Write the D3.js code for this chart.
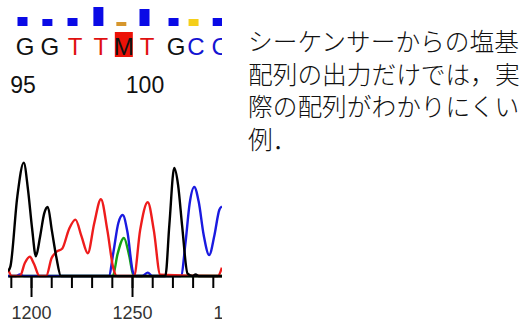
<!DOCTYPE html>
<html>
<head>
<meta charset="utf-8">
<script src="https://cdn.jsdelivr.net/npm/d3@7"></script>
<style>
  body { margin: 0; background: #fff; }
  svg { display: block; }
</style>
</head>
<body>
<div id="chart"></div>
<script>
// base calls (top strip)
const bases = ['G', 'G', 'T', 'T', 'M', 'T', 'G', 'C', 'C'];
const basePos = [95, 96.02, 97.05, 98.11, 99.05, 100, 101.19, 102.01, 103];
const quality = [18, 14, 16, 38, 8, 34, 16, 14, 16];
const qualClass = ['hi', 'hi', 'hi', 'hi', 'low', 'hi', 'hi', 'mid', 'hi'];
const baseTicks = [95, 100];

// chromatogram traces: [scan, intensity]
const traceG = [[1188.6, 40], [1189.8, 80], [1193.2, 660], [1196.4, 945], [1198.5, 720], [1200.5, 400],
  [1202.4, 165], [1204.5, 330], [1206.5, 520], [1208.3, 575], [1210.3, 380], [1212.5, 160], [1214.8, 0],
  [1266.5, 0], [1268.5, 430], [1270.9, 900], [1272.8, 760], [1274.8, 420], [1277.5, 20], [1280, 0],
  [1281.5, 12], [1283, 0], [1294.5, 0]];
const traceT = [[1188.6, 60], [1190.5, 0], [1194.5, 0], [1197, 110], [1199.4, 160], [1201.5, 100], [1204.2, 0],
  [1207.5, 0], [1210.2, 150], [1212.5, 200], [1215.5, 230], [1218.8, 390], [1222, 470], [1225, 330],
  [1228.1, 190], [1231.3, 440], [1234.6, 640], [1237.8, 380], [1240.8, 60], [1242.5, 0], [1251, 0],
  [1254, 380], [1257.8, 615], [1260.8, 380], [1264, 10], [1292.5, 0], [1294.5, 70]];
const traceC = [[1188.6, 0], [1192.5, 0], [1194.5, 12], [1196.5, 0], [1238.5, 0], [1240.8, 200], [1243.2, 440],
  [1245.4, 508], [1247.8, 360], [1250.5, 30], [1252, 0], [1255, 0], [1257.8, 28], [1260, 0], [1274.2, 0],
  [1276.5, 280], [1278.5, 600], [1280.8, 742], [1283, 620], [1285.5, 340], [1288.2, 175], [1290.8, 340],
  [1293.2, 550], [1294.5, 580]];
const traceA = [[1188.6, 0], [1240.5, 0], [1242.8, 180], [1246, 317], [1248.6, 170], [1250.8, 0], [1294.5, 0]];
const scanTicksMinor = d3.range(1190, 1300, 10);
const scanTicksMajor = [1200, 1250, 1300];

const caption = ['シーケンサーからの塩基', '配列の出力だけでは，実', '際の配列がわかりにくい', '例．'];

const W = 527, H = 322;
const latin = '"Liberation Sans", Arial, sans-serif';
const baseColor = { G: '#111', T: '#e01010', C: '#1414d2', A: '#109010', M: '#111' };
const traceColor = { G: '#000', T: '#ee1c1c', C: '#1a1ae0', A: '#13a013' };

const svg = d3.select('#chart').append('svg')
  .attr('width', W)
  .attr('height', H);

svg.append('clipPath').attr('id', 'clipL')
  .append('rect').attr('x', 0).attr('y', 0).attr('width', 222).attr('height', H);
svg.append('clipPath').attr('id', 'clipB')
  .append('rect').attr('x', 8).attr('y', 0).attr('width', 214).attr('height', H);

// ---- top strip
const stripG = svg.append('g').attr('clip-path', 'url(#clipL)');
const xBase = d3.scaleLinear().domain([95, 100]).range([25, 147]);
const qScale = d3.scaleLinear().domain([0, 40]).range([0, 20]);
const qColor = d3.scaleOrdinal().domain(['hi', 'mid', 'low']).range(['#0a0ae6', '#f5cf1a', '#d6962c']);
const barBottom = 26;

stripG.selectAll('rect.q')
  .data(quality)
  .enter()
  .append('rect')
  .attr('class', 'q')
  .attr('x', (d, i) => xBase(basePos[i]) - 2.5 - 5)
  .attr('y', d => barBottom - qScale(d))
  .attr('width', 10)
  .attr('height', d => qScale(d))
  .attr('fill', (d, i) => qColor(qualClass[i]));

// ambiguous call highlight
stripG.selectAll('rect.amb')
  .data(bases.map((b, i) => ({ b, i })).filter(d => d.b === 'M'))
  .enter()
  .append('rect')
  .attr('class', 'amb')
  .attr('x', d => xBase(basePos[d.i]) - 9)
  .attr('y', 32)
  .attr('width', 18)
  .attr('height', 25)
  .attr('fill', '#ec1208');

stripG.selectAll('text.base')
  .data(bases)
  .enter()
  .append('text')
  .attr('class', 'base')
  .attr('x', (d, i) => xBase(basePos[i]))
  .attr('y', 55)
  .attr('text-anchor', 'middle')
  .style('font-family', latin)
  .style('font-size', '24px')
  .attr('fill', d => baseColor[d])
  .text(d => d);

stripG.selectAll('text.bt')
  .data(baseTicks)
  .enter()
  .append('text')
  .attr('class', 'bt')
  .attr('x', d => xBase(d) - 2)
  .attr('y', 93)
  .attr('text-anchor', 'middle')
  .style('font-family', latin)
  .style('font-size', '23px')
  .attr('fill', '#111')
  .text(d => d);

// ---- chromatogram
const chromG = svg.append('g').attr('clip-path', 'url(#clipB)');
const xScan = d3.scaleLinear().domain([1188.6, 1294.5]).range([8, 221.9]);
const yInt = d3.scaleLinear().domain([0, 1000]).range([276, 156]);

const line = d3.line()
  .x(d => xScan(d[0]))
  .y(d => yInt(d[1]))
  .curve(d3.curveMonotoneX);

const traces = [['A', traceA], ['C', traceC], ['T', traceT], ['G', traceG]];
chromG.selectAll('path.trace')
  .data(traces)
  .enter()
  .append('path')
  .attr('class', 'trace')
  .attr('d', d => line(d[1]))
  .attr('fill', 'none')
  .attr('stroke', d => traceColor[d[0]])
  .attr('stroke-width', 2.4)
  .attr('stroke-linejoin', 'round');

const minorAxis = d3.axisBottom(xScan)
  .tickValues(scanTicksMinor)
  .tickSize(12)
  .tickSizeOuter(0)
  .tickFormat('');
const majorAxis = d3.axisBottom(xScan)
  .tickValues(scanTicksMajor)
  .tickSize(21)
  .tickSizeOuter(0)
  .tickPadding(9)
  .tickFormat(d3.format('d'));

chromG.append('g')
  .attr('transform', 'translate(0,276)')
  .call(minorAxis)
  .call(g => g.selectAll('line, path').attr('stroke', '#000').attr('stroke-width', 2));

chromG.append('g')
  .attr('transform', 'translate(0,276)')
  .call(majorAxis)
  .call(g => g.select('.domain').remove())
  .call(g => g.selectAll('line').attr('stroke', '#000').attr('stroke-width', 2))
  .call(g => g.selectAll('text')
    .style('font-family', latin)
    .style('font-size', '18px')
    .attr('fill', '#333'));

// ---- caption
svg.append('g')
  .selectAll('text')
  .data(caption)
  .enter()
  .append('text')
  .attr('x', 248)
  .attr('y', (d, i) => 51 + i * 32.5)
  .style('font-family', '"Noto Sans CJK JP", sans-serif')
  .style('font-size', '24.7px')
  .style('font-weight', 300)
  .attr('fill', '#111')
  .text(d => d);
</script>
</body>
</html>
